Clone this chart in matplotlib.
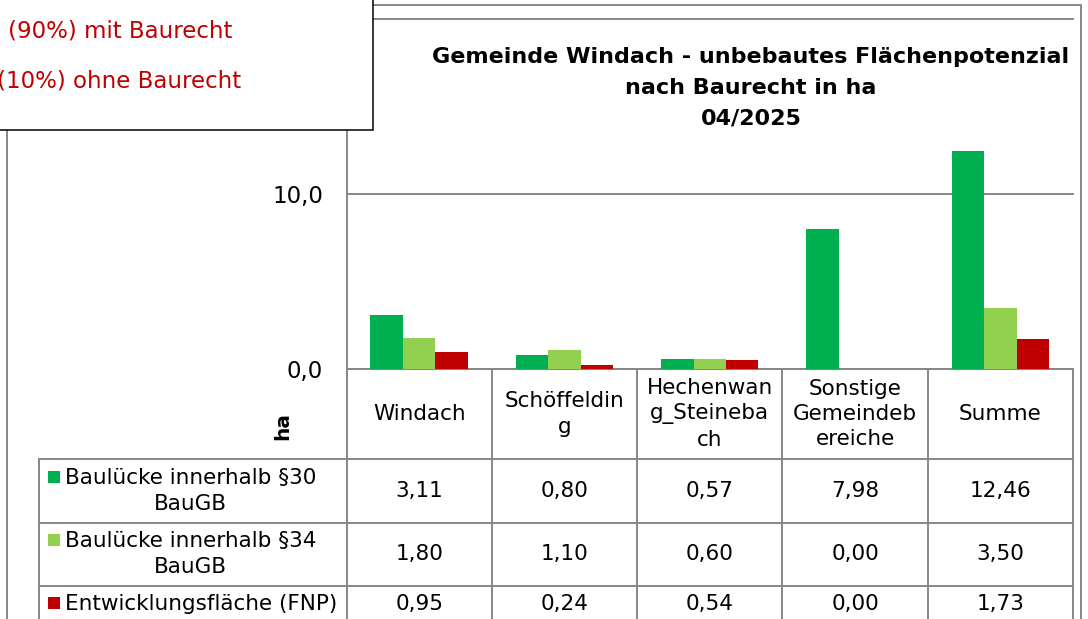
import numpy as np
import matplotlib.pyplot as plt
from matplotlib.lines import Line2D
from matplotlib.patches import Rectangle

# Gemeinde Windach - unbebautes Flaechenpotenzial (Balken + Datentabelle)
W, H = 1088, 619

categories = ['Windach', 'Schöffelding', 'Hechenwang_Steinebach',
              'Sonstige Gemeindebereiche', 'Summe']
cat_labels = ['Windach', 'Schöffeldin\ng', 'Hechenwan\ng_Steineba\nch',
              'Sonstige\nGemeindeb\nereiche', 'Summe']
series_names = ['Baulücke innerhalb §30\nBauGB',
                'Baulücke innerhalb §34\nBauGB',
                'Entwicklungsfläche (FNP)']
bl30 = [3.11, 0.80, 0.57, 7.98, 12.46]
bl34 = [1.80, 1.10, 0.60, 0.00, 3.50]
fnp = [0.95, 0.24, 0.54, 0.00, 1.73]
yticks = [0, 10, 20]
title_lines = ['Gemeinde Windach - unbebautes Flächenpotenzial',
               'nach Baurecht in ha', '04/2025']
note_lines = ['(90%) mit Baurecht', '(10%) ohne Baurecht']

colors = ['#00B050', '#92D050', '#C00000']
gray = '#878787'
lw = 1.4


def fx(px):
    return px / W


def fy(py):
    return 1 - py / H


def de(v, n):
    return f'{v:.{n}f}'.replace('.', ',')


fig = plt.figure(figsize=(W / 100, H / 100), dpi=100)
x0, x1, ytop, y0 = 346.5, 1073, 19, 369
ax = fig.add_axes([fx(x0), fy(y0), fx(x1) - fx(x0), fy(ytop) - fy(y0)])

x = np.arange(len(categories))
w = 0.2236
for i, (vals, c) in enumerate(zip([bl30, bl34, fnp], colors)):
    ax.bar(x + (i - 1) * w, vals, w, color=c, zorder=3)

ax.set_xlim(-0.5, len(categories) - 0.5)
ax.set_ylim(0, 20)
ax.set_xticks([])
ax.set_yticks(yticks)
ax.set_yticklabels([de(v, 1) for v in yticks], fontsize=16.5)
ax.tick_params(axis='y', length=0, pad=17)
ax.set_axisbelow(True)
ax.grid(axis='y', color=gray, lw=lw)
for gl in ax.get_ygridlines():
    gl.set_clip_on(False)
for s in ['top', 'right']:
    ax.spines[s].set_visible(False)
for s in ['left', 'bottom']:
    ax.spines[s].set_color(gray)
    ax.spines[s].set_linewidth(lw)


def hline(y, xa, xb, color=gray):
    fig.add_artist(Line2D([fx(xa), fx(xb)], [fy(y), fy(y)], color=color, lw=lw))


def vline(xp, ya, yb, color=gray):
    fig.add_artist(Line2D([fx(xp), fx(xp)], [fy(ya), fy(yb)], color=color, lw=lw))


# data table
cw = (x1 - x0) / len(categories)
col_edges = x0 + np.arange(len(categories) + 1) * cw
row_edges = [369, 459, 522.7, 585.7, 625]
key_left = 39.3
for r in row_edges[1:4]:
    hline(r, key_left, x1)
for c in col_edges:
    vline(c, y0, 625)
vline(key_left, 459, 625)

for i, lab in enumerate(cat_labels):
    fig.text(fx(col_edges[i] + cw / 2), fy((row_edges[0] + row_edges[1]) / 2), lab,
             ha='center', va='center', multialignment='center',
             fontsize=15.5, linespacing=1.32)

rows = [bl30, bl34, fnp]
row_centers = [491, 554, 604]
key_y = [477, 540, 603]
for j, (vals, name) in enumerate(zip(rows, series_names)):
    for i, v in enumerate(vals):
        fig.text(fx(col_edges[i] + cw / 2), fy(row_centers[j]), de(v, 2),
                 ha='center', va='center', fontsize=15.5)
    fig.add_artist(Rectangle((fx(47.7), fy(key_y[j] + 6)), fx(12.3), 12.3 / H,
                             transform=fig.transFigure, fc=colors[j], ec='none'))
    fig.text(fx(65), fy(row_centers[j]), name, ha='left', va='center',
             multialignment='center', fontsize=15.5, linespacing=1.36)

fig.text(fx(283), fy(426), 'ha', rotation=90, ha='center', va='center',
         fontsize=14.5, fontweight='bold')

# outer chart border
fig.add_artist(Line2D([fx(7), fx(7), fx(1081), fx(1081)],
                      [fy(625), fy(5), fy(5), fy(625)], color=gray, lw=lw))

# title
for k, (t, b) in enumerate(zip(title_lines, [63, 94, 125])):
    fig.text(fx(751), fy(b), t, ha='center', va='baseline',
             fontsize=16, fontweight='bold')

# overlapping text box (cut at the left edge as in the source)
fig.add_artist(Rectangle((fx(-10), fy(130)), fx(383), fy(-10) - fy(130),
                         transform=fig.transFigure, fc='white', ec='black',
                         lw=1.1, zorder=10))
fig.text(fx(8), fy(31), note_lines[0], color='#C00000', fontsize=16.5,
         va='center', zorder=11)
fig.text(fx(-3), fy(81), note_lines[1], color='#C00000', fontsize=16.5,
         va='center', zorder=11)

fig.savefig('out.png', dpi=100)
